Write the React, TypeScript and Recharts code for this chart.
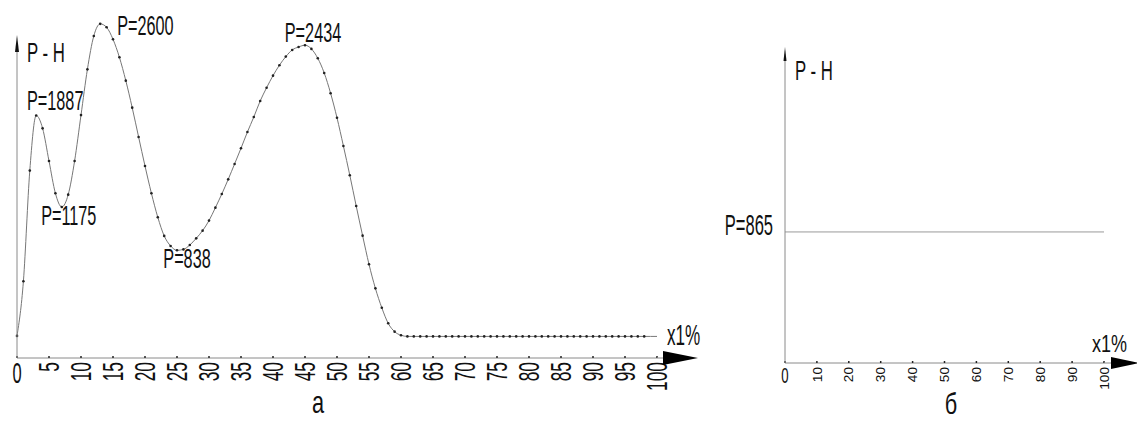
import React from "react";
import { LineChart, Line, XAxis, YAxis, Scatter } from "recharts";

// curve a: load P (H) against displacement x (%)
const percent = [
  0, 1, 2, 3, 4, 5, 6, 7, 8, 9, 10, 11, 12, 13, 14, 15, 16, 17, 18, 19, 20,
  21, 22, 23, 24, 25, 26, 27, 28, 29, 30, 31, 32, 33, 34, 35, 36, 37, 38, 39, 40,
  41, 42, 43, 44, 45, 46, 47, 48, 49, 50, 51, 52, 53, 54, 55, 56, 57, 58, 59, 60,
  61, 62, 63, 64, 65, 66, 67, 68, 69, 70, 71, 72, 73, 74, 75, 76, 77, 78, 79, 80,
  81, 82, 83, 84, 85, 86, 87, 88, 89, 90, 91, 92, 93, 94, 95, 96, 97, 98, 99, 100,
];
const load = [
  172, 597, 1458, 1887, 1787, 1533, 1282, 1175, 1271, 1533, 1890, 2246, 2506, 2600, 2573, 2480, 2340, 2158, 1948, 1720, 1494,
  1282, 1095, 950, 872, 838, 845, 879, 931, 991, 1069, 1170, 1276, 1390, 1510, 1632, 1758, 1875, 2000, 2103, 2197,
  2278, 2345, 2397, 2420, 2434, 2405, 2332, 2218, 2060, 1869, 1650, 1422, 1183, 952, 729, 542, 391, 270, 205, 177,
  168, 168, 168, 168, 168, 168, 168, 168, 168, 168, 168, 168, 168, 168, 168, 168, 168, 168, 168, 168,
  168, 168, 168, 168, 168, 168, 168, 168, 168, 168, 168, 168, 168, 168, 168, 168, 168, 168, 168, 168,
];
const peakPercent = [3, 7, 13, 25, 45];
const peakLoad = [1887, 1175, 2600, 838, 2434];
const leftTicks = [0, 5, 10, 15, 20, 25, 30, 35, 40, 45, 50, 55, 60, 65, 70, 75, 80, 85, 90, 95, 100];

// curve б: constant load
const constPercent = [0, 100];
const constLoad = [865, 865];
const rightTicks = [0, 10, 20, 30, 40, 50, 60, 70, 80, 90, 100];

const curveData = percent.map((x, i) => ({ x, p: load[i] }));
const peakData = peakPercent.map((x, i) => ({ x, p: peakLoad[i] }));
const constData = constPercent.map((x, i) => ({ x, p: constLoad[i] }));

// label placement next to each peak (dx, dy, anchor)
const peakOffsets: [number, number, string][] = [
  [19, -5, "middle"],
  [7, 18, "middle"],
  [17, 11, "start"],
  [10, 18, "middle"],
  [8, -3, "middle"],
];

const FONT = "'Liberation Sans', Arial, sans-serif";
const AXIS = "#8a8a8a";

const Narrow = ({ x, y, size, sx, anchor = "start", rotate = 0, children }: any) => (
  <text
    transform={`translate(${x},${y}) rotate(${rotate}) scale(${sx},1)`}
    fontSize={size}
    fontFamily={FONT}
    textAnchor={anchor}
    fill="#111"
  >
    {children}
  </text>
);

const XTick = ({ x, payload, axisY, size, sx, zeroSize, zeroSx }: any) => {
  const v = payload.value;
  return (
    <g>
      <line x1={x} x2={x} y1={axisY - 2} y2={axisY} stroke="#222" strokeWidth={1.5} />
      {v === 0 ? (
        <Narrow x={x} y={axisY + 4 + zeroSize * 0.716} size={zeroSize} sx={zeroSx} anchor="middle">
          0
        </Narrow>
      ) : (
        <Narrow x={x + size * 0.358} y={axisY + 4} size={size} sx={sx} anchor="end" rotate={-90}>
          {v}
        </Narrow>
      )}
    </g>
  );
};

const curveDot = (props: any) => {
  const { cx, cy, index } = props;
  if (index > 98) return <g key={`d${index}`} />;
  return <circle key={`d${index}`} cx={cx} cy={cy} r={1.3} fill="#222" />;
};

const PeakLabel = (props: any) => {
  const { cx, cy, index } = props;
  const [dx, dy, anchor] = peakOffsets[index];
  return (
    <Narrow x={cx + dx} y={cy + dy} size={28} sx={0.58} anchor={anchor}>
      {`P=${peakLoad[index]}`}
    </Narrow>
  );
};

const ConstLabel = (props: any) => {
  const { cx, cy, index } = props;
  if (index !== 0) return <g />;
  return (
    <Narrow x={cx - 12} y={cy + 3} size={30} sx={0.55} anchor="end">
      {`P=${constLoad[0]}`}
    </Narrow>
  );
};

export default function App() {
  return (
    <div style={{ position: "absolute", left: 0, top: 0, width: 1137, height: 421, background: "#fff" }}>
      <div style={{ position: "absolute", left: 0, top: 0 }}>
        <LineChart width={720} height={421} data={curveData} margin={{ top: 11, right: 63, bottom: 0, left: 17 }}>
          <XAxis
            dataKey="x"
            type="number"
            domain={[0, 100]}
            ticks={leftTicks}
            height={63}
            axisLine={{ stroke: AXIS }}
            tickLine={false}
            interval={0}
            tick={<XTick axisY={358} size={29} sx={0.6} zeroSize={30} zeroSx={0.55} />}
          />
          <YAxis hide type="number" domain={[0, 2700]} />
          <Line
            dataKey="p"
            type="monotone"
            stroke="#777"
            strokeWidth={1}
            dot={curveDot}
            isAnimationActive={false}
          />
          <Scatter data={peakData} dataKey="p" shape={<PeakLabel />} isAnimationActive={false} />
        </LineChart>
      </div>
      <div style={{ position: "absolute", left: 720, top: 0 }}>
        <LineChart width={417} height={421} data={constData} margin={{ top: 60, right: 33, bottom: 0, left: 65 }}>
          <XAxis
            dataKey="x"
            type="number"
            domain={[0, 100]}
            ticks={rightTicks}
            height={58}
            axisLine={{ stroke: AXIS }}
            tickLine={false}
            interval={0}
            tick={<XTick axisY={363} size={13} sx={1.05} zeroSize={22} zeroSx={0.6} />}
          />
          <YAxis hide type="number" domain={[0, 2000]} />
          <Line dataKey="p" type="linear" stroke="#999" strokeWidth={1} dot={false} isAnimationActive={false} />
          <Scatter data={constData} dataKey="p" shape={<ConstLabel />} isAnimationActive={false} />
        </LineChart>
      </div>
      <svg
        width={1137}
        height={421}
        style={{ position: "absolute", left: 0, top: 0, pointerEvents: "none" }}
      >
        {/* left axes and arrows */}
        <line x1={17} x2={17} y1={358} y2={48} stroke={AXIS} />
        <polygon points="17,35 15,52 19,52" fill="#111" />
        <line x1={657} x2={664} y1={358} y2={358} stroke={AXIS} />
        <polygon points="663,351 698,358 663,365" fill="#000" />
        <Narrow x={27} y={62} size={28} sx={0.6}>P - H</Narrow>
        <Narrow x={667} y={345} size={30} sx={0.57}>x1%</Narrow>
        <Narrow x={318} y={413} size={32} sx={0.68} anchor="middle">а</Narrow>

        {/* right axes and arrows */}
        <line x1={785} x2={785} y1={363} y2={58} stroke={AXIS} />
        <polygon points="785,47 783.5,61 786.5,61" fill="#111" />
        <line x1={1104} x2={1112} y1={363} y2={363} stroke={AXIS} />
        <polygon points="1111,357 1140,363 1111,369" fill="#000" />
        <Narrow x={795} y={80} size={28} sx={0.6}>P - H</Narrow>
        <Narrow x={1092} y={352} size={24} sx={0.75}>x1%</Narrow>
        <Narrow x={951} y={414} size={29} sx={0.75} anchor="middle">б</Narrow>
      </svg>
    </div>
  );
}
